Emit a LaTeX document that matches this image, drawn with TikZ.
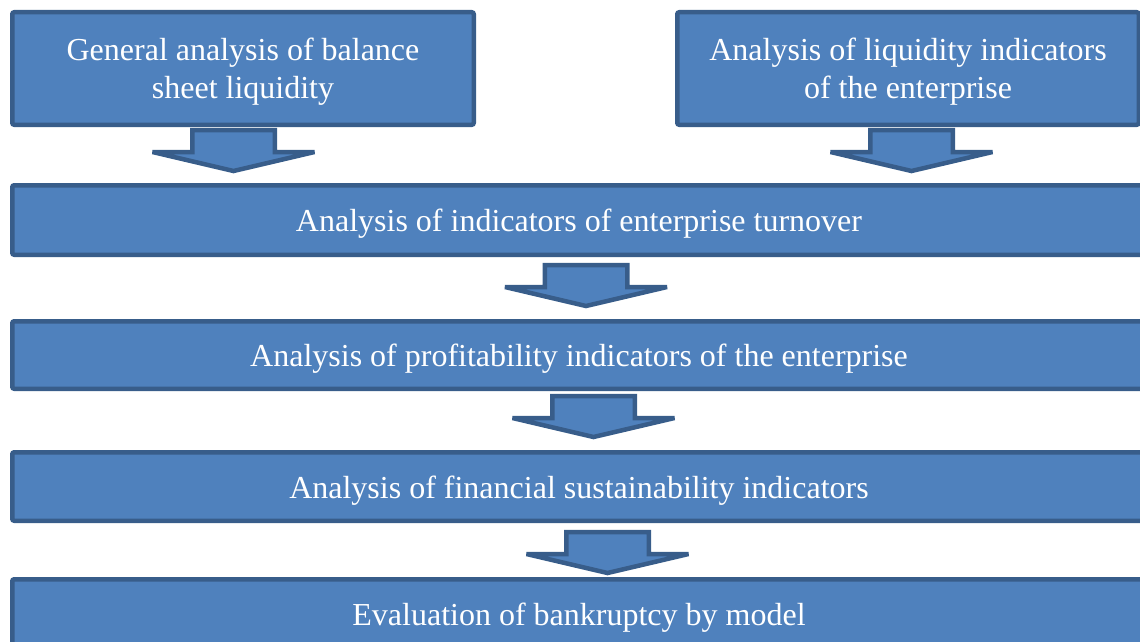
\documentclass[tikz,border=0pt]{standalone}
\usepackage{fontspec}
\setmainfont{Liberation Serif}
\usetikzlibrary{positioning}

\definecolor{boxfill}{HTML}{4F81BD}
\definecolor{boxline}{HTML}{385D8A}

\begin{document}
\begin{tikzpicture}[
    x=1pt, y=-1pt,
    stage/.style={rectangle, draw=boxline, fill=boxfill, line width=4.5pt, rounded corners=2pt,
        align=center, text=white, inner sep=0pt, text height=30pt, text depth=7pt,
        font=\fontsize{32}{38}\selectfont},
    topstage/.style={stage, minimum width=461.5pt, minimum height=112.5pt, text height=68pt},
    widestage/.style={stage, minimum width=1133.5pt},
    pics/downarrow/.style={code={
        \draw[draw=boxline, fill=boxfill, line width=4.5pt, miter limit=2]
            (-41.25,0) -- (41.25,0) -- (41.25,22) -- (81,22) -- (0,41)
            -- (-81,22) -- (-41.25,22) -- cycle;
    }}
]
\useasboundingbox (0,0) rectangle (1140,642);

% Two starting analyses
\node[topstage] (balance) at (243,68.5) {General analysis of balance\\sheet liquidity};
\node[topstage] (liquidity) at (908,68.5) {Analysis of liquidity indicators\\of the enterprise};

% Main chain
\node[widestage, minimum height=69.5pt] (turnover) at (579,220) {Analysis of indicators of enterprise turnover};
\node[widestage, minimum height=67.5pt] (profit) at (579,355) {Analysis of profitability indicators of the enterprise};
\node[widestage, minimum height=68.5pt] (sustain) at (579,486.5) {Analysis of financial sustainability indicators};
\node[widestage, minimum height=69.5pt] (bankrupt) at (579,614) {Evaluation of bankruptcy by model};

% Block arrows between the stages
\pic at ([shift={(-9.5,3)}]balance.south) {downarrow};
\pic at ([shift={(3.5,3)}]liquidity.south) {downarrow};
\pic at ([shift={(7,8)}]turnover.south) {downarrow};
\pic at ([shift={(14.5,5)}]profit.south) {downarrow};
\pic at ([shift={(28.5,9)}]sustain.south) {downarrow};

\end{tikzpicture}
\end{document}
